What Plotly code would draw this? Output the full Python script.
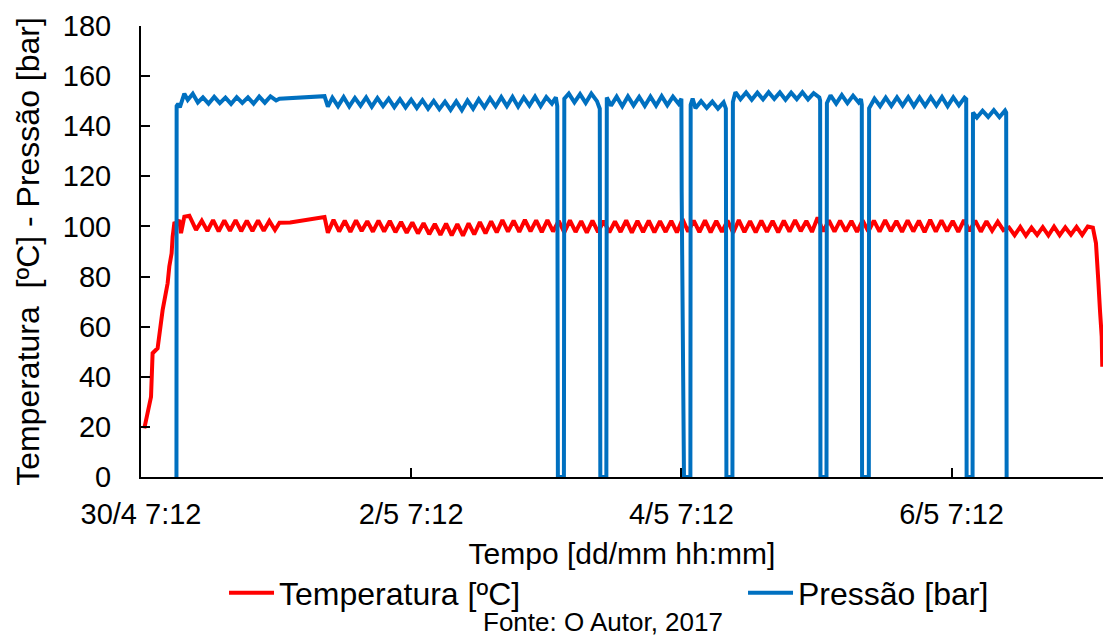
import pandas as pd
import plotly.graph_objects as go

# ---------------- data (hours after 30/4 7:12) -------------
START = "2017-04-30 07:12"
X_END_H = 170.9
TICK_HOURS = [0, 48, 96, 144]
TICK_LABELS = ["30/4 7:12", "2/5 7:12", "4/5 7:12", "6/5 7:12"]

# Temperature [ºC]
TEMP_RAMP_H = [0.59, 1.78, 2.06, 2.95, 3.84, 4.32, 4.73, 5.03, 5.44, 5.62, 5.92, 6.4, 6.81, 7.11, 7.70, 8.59, 9.78]
TEMP_RAMP_V = [19.4, 32.0, 49.4, 51.4, 66.6, 71.9, 77.3, 84.0, 89.3, 95.9, 101.2, 101.5, 102.6, 97.3, 103.9, 104.3, 98.6]
TEMP_WAVE_1_START = 10.8
TEMP_WAVE_1 = [102.3, 98.2, 102.5, 98.0, 102.4, 98.3, 102.5, 98.1, 102.3, 98.2, 102.4, 98.3, 102.2, 98.6]
TEMP_GAP_H = [24.6, 26.5, 32.6, 33.2]
TEMP_GAP_V = [101.5, 101.6, 103.8, 97.5]
TEMP_WAVE_2_START = 34.2
TEMP_WAVE_2 = [102.6, 98.0, 102.3, 97.8, 102.4, 98.2, 102.1, 97.9, 102.3, 98.0,
               102.2, 97.7, 101.8, 97.5, 101.6, 97.2, 101.3, 96.9, 101.0, 96.6,
               101.1, 96.4, 100.9, 96.3, 101.2, 96.8, 101.7, 97.2, 102.0, 97.6,
               102.5, 97.9, 102.3, 97.8, 102.6, 98.0, 102.4, 97.7, 102.5, 98.0]
TEMP_WAVE_3_START = 74.2
TEMP_WAVE_3 = [102.2, 97.6, 102.4, 97.8, 102.1, 97.5, 102.3, 97.7, 102.2, 97.6,
               102.0, 97.8, 102.4, 97.5, 102.2, 97.7, 102.3, 97.6, 102.1, 97.8,
               102.2, 97.6, 102.9, 97.9, 102.3, 97.7, 102.4, 97.6, 102.2, 97.8,
               102.3, 97.5, 102.5, 97.7, 102.1, 97.6, 102.3, 97.8, 102.2, 97.6]
TEMP_WAVE_4_START = 114.2
TEMP_WAVE_4 = [102.3, 97.9, 102.5, 98.1, 102.2, 97.8, 103.6, 98.0, 102.4, 97.9,
               102.3, 98.1, 102.2, 97.8, 102.4, 98.0, 102.3, 97.9, 102.5, 98.1,
               102.2, 97.8, 102.4, 98.0, 102.3, 97.7, 102.6, 97.9, 102.4, 98.1,
               102.2, 97.8, 102.5, 98.2, 102.3, 97.9, 102.1, 98.3, 101.9, 98.5]
TEMP_WAVE_5_START = 154.2
TEMP_WAVE_5 = [99.6, 96.5, 99.8, 96.3, 99.5, 96.6, 99.7, 96.4, 99.9, 96.5, 99.6, 96.7, 99.8, 96.6, 100.0]
TEMP_END_H = [169.1, 169.65, 169.88, 170.06, 170.36, 170.67, 170.77]
TEMP_END_V = [99.5, 93.4, 81.4, 78.6, 66.6, 56.0, 44.0]

# Pressure [bar]
PRES_START_H = [6.30, 6.33, 6.6, 6.9, 7.7, 8.3, 9.2, 10.1]
PRES_START_V = [0.0, 148.0, 149.0, 147.5, 153.0, 150.5, 153.0, 149.5]
PRES_WAVE_1_START = 11.0
PRES_WAVE_1 = [151.5, 149.0, 151.7, 149.2, 151.4, 148.9, 151.6, 149.3, 151.5, 149.0, 151.8, 149.4, 151.9, 150.3]
PRES_GAP_H = [24.6, 32.6, 33.2]
PRES_GAP_V = [151.0, 152.0, 147.8]
PRES_WAVE_2_START = 34.0
PRES_WAVE_2 = [151.4, 148.0, 151.6, 147.9, 151.3, 148.2, 151.5, 147.8, 151.2, 148.0,
               151.0, 147.6, 150.8, 147.5, 150.6, 147.3, 150.4, 147.0, 150.1, 146.8,
               149.8, 146.5, 149.9, 146.4, 150.3, 147.0, 150.8, 147.5, 151.2, 147.9,
               151.6, 148.0, 151.7, 147.8, 151.5, 148.2, 151.8, 148.0, 151.6, 149.0]
PRES_STOP_1_H = [73.7, 73.95, 74.06, 75.13, 75.2]
PRES_STOP_1_V = [151.5, 148.0, 0.0, 0.0, 151.0]
PRES_WAVE_3_START = 76.0
PRES_WAVE_3 = [153.0, 149.5, 152.8, 149.3, 153.0, 150.0]
PRES_STOP_2_H = [81.5, 81.6, 82.67, 82.75]
PRES_STOP_2_V = [147.0, 0.0, 0.0, 151.5]
PRES_WAVE_4_START = 83.5
PRES_WAVE_4 = [148.2, 151.8, 148.0, 151.9, 148.3, 151.7, 148.1, 151.8, 148.2, 152.0, 148.4, 151.8, 149.0]
PRES_STOP_3_H = [96.0, 96.05, 96.3, 96.46, 97.6, 97.65, 98.0]
PRES_STOP_3_V = [151.0, 114.0, 60.0, 0.0, 0.0, 148.5, 151.0]
PRES_WAVE_5_START = 98.5
PRES_WAVE_5 = [147.2, 150.0, 147.3, 149.8, 147.0, 149.5]
PRES_STOP_4_H = [103.9, 104.0, 105.07, 105.15, 105.6]
PRES_STOP_4_V = [147.0, 0.0, 0.0, 149.7, 153.6]
PRES_WAVE_6_START = 106.5
PRES_WAVE_6 = [150.8, 153.5, 150.6, 153.4, 150.7, 153.6, 150.9, 153.5, 150.6, 153.4, 150.8, 153.6, 150.7, 153.2, 151.5]
PRES_STOP_5_H = [120.65, 120.71, 121.78, 121.85]
PRES_STOP_5_V = [150.3, 0.0, 0.0, 149.2]
PRES_WAVE_7_START = 122.5
PRES_WAVE_7 = [152.3, 149.0, 152.4, 149.2, 152.2, 149.5]
PRES_STOP_6_H = [127.9, 128.05, 128.1, 129.3, 129.35]
PRES_STOP_6_V = [150.8, 148.6, 0.0, 0.0, 147.2]
PRES_WAVE_8_START = 130.3
PRES_WAVE_8 = [151.0, 148.0, 151.4, 148.1, 151.5, 148.2, 151.6, 148.0, 151.5, 148.1, 151.6, 148.2, 151.7, 148.0, 151.5, 148.3, 151.4]
PRES_STOP_7_H = [146.6, 146.67, 147.73, 147.8]
PRES_STOP_7_V = [150.8, 0.0, 0.0, 145.5]
PRES_WAVE_9_START = 148.5
PRES_WAVE_9 = [143.5, 146.2, 143.7, 146.4, 143.6, 146.3]
PRES_END_H = [153.7, 153.78]
PRES_END_V = [145.5, 0.0]


# ---------------- assembling --------------------------------------------------------------
def wave(start_h, values):
    return [start_h + i for i in range(len(values))], list(values)


def chain(*parts):
    hs, vs = [], []
    for h, v in parts:
        hs += list(h)
        vs += list(v)
    return hs, vs


t0 = pd.Timestamp(START)


def to_time(hours):
    return t0 + pd.to_timedelta(hours, unit="h")


temp_h, temp_v = chain(
    (TEMP_RAMP_H, TEMP_RAMP_V),
    wave(TEMP_WAVE_1_START, TEMP_WAVE_1),
    (TEMP_GAP_H, TEMP_GAP_V),
    wave(TEMP_WAVE_2_START, TEMP_WAVE_2),
    wave(TEMP_WAVE_3_START, TEMP_WAVE_3),
    wave(TEMP_WAVE_4_START, TEMP_WAVE_4),
    wave(TEMP_WAVE_5_START, TEMP_WAVE_5),
    (TEMP_END_H, TEMP_END_V),
)

pres_h, pres_v = chain(
    (PRES_START_H, PRES_START_V),
    wave(PRES_WAVE_1_START, PRES_WAVE_1),
    (PRES_GAP_H, PRES_GAP_V),
    wave(PRES_WAVE_2_START, PRES_WAVE_2),
    (PRES_STOP_1_H, PRES_STOP_1_V),
    wave(PRES_WAVE_3_START, PRES_WAVE_3),
    (PRES_STOP_2_H, PRES_STOP_2_V),
    wave(PRES_WAVE_4_START, PRES_WAVE_4),
    (PRES_STOP_3_H, PRES_STOP_3_V),
    wave(PRES_WAVE_5_START, PRES_WAVE_5),
    (PRES_STOP_4_H, PRES_STOP_4_V),
    wave(PRES_WAVE_6_START, PRES_WAVE_6),
    (PRES_STOP_5_H, PRES_STOP_5_V),
    wave(PRES_WAVE_7_START, PRES_WAVE_7),
    (PRES_STOP_6_H, PRES_STOP_6_V),
    wave(PRES_WAVE_8_START, PRES_WAVE_8),
    (PRES_STOP_7_H, PRES_STOP_7_V),
    wave(PRES_WAVE_9_START, PRES_WAVE_9),
    (PRES_END_H, PRES_END_V),
)

FONT = "Liberation Sans, Arial, sans-serif"

fig = go.Figure()
fig.add_trace(go.Scatter(
    x=to_time(temp_h), y=temp_v, mode="lines", name="Temperatura [ºC]",
    line=dict(color="#FF0000", width=4), legend="legend",
))
fig.add_trace(go.Scatter(
    x=to_time(pres_h), y=pres_v, mode="lines", name="Pressão [bar]",
    line=dict(color="#0070C0", width=4), legend="legend2",
))

legend_common = dict(
    orientation="h", xanchor="left", y=-0.257, yanchor="middle",
    font=dict(size=32, family=FONT, color="black"),
    bgcolor="rgba(0,0,0,0)", itemwidth=45,
)

fig.update_layout(
    width=1103, height=637,
    margin=dict(l=141, r=0, t=26, b=160, autoexpand=False),
    paper_bgcolor="white", plot_bgcolor="white",
    font=dict(family=FONT, size=29, color="black"),
    showlegend=True,
    legend=dict(x=0.0863, **legend_common),
    legend2=dict(x=0.6258, **legend_common),
    annotations=[dict(
        text="Fonte: O Autor, 2017", xref="paper", yref="paper",
        x=0.48, y=-0.3215, xanchor="center", yanchor="middle", showarrow=False,
        font=dict(size=26, family=FONT, color="black"),
    )],
)

fig.update_xaxes(
    type="date", automargin=False,
    range=[to_time(0), to_time(X_END_H)],
    tickvals=list(to_time(TICK_HOURS)), ticktext=TICK_LABELS,
    ticks="inside", ticklen=9, tickwidth=2, tickcolor="black",
    showline=True, linecolor="black", linewidth=2,
    showgrid=False, zeroline=False,
    tickfont=dict(size=29, family=FONT, color="black"),
    ticklabelstandoff=10,
    title=dict(text="Tempo [dd/mm hh:mm]", font=dict(size=30, family=FONT, color="black"), standoff=14),
)
fig.update_yaxes(
    automargin=False,
    range=[0, 180], tick0=0, dtick=20,
    ticks="inside", ticklen=9, tickwidth=2, tickcolor="black",
    showline=True, linecolor="black", linewidth=2,
    showgrid=False, zeroline=False,
    tickfont=dict(size=29, family=FONT, color="black"),
    ticklabelstandoff=22,
    title=dict(text="Temperatura\u00a0 [ºC] - Pressão [bar]", font=dict(size=32, family=FONT, color="black"), standoff=14),
)

fig.write_html(
    "out.html",
    config={"displayModeBar": False},
    post_script="document.body.style.margin='0';",
)
